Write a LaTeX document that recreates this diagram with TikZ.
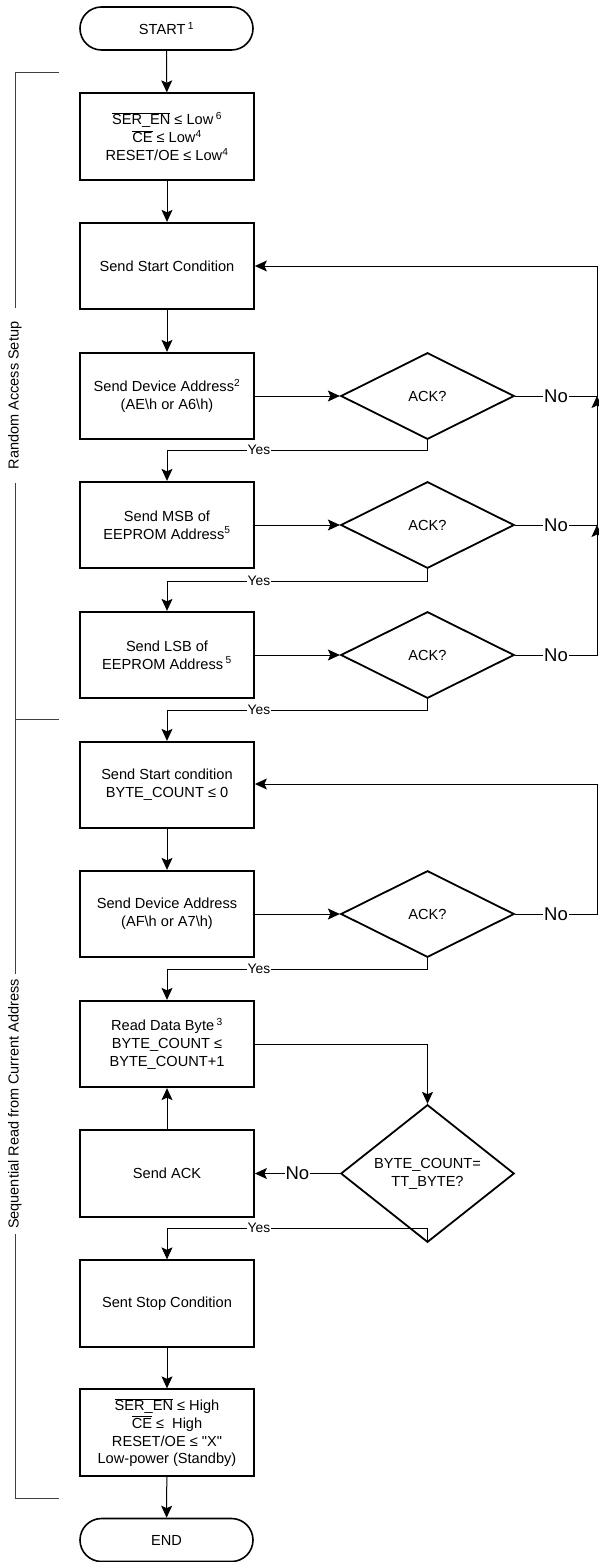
\documentclass[tikz,border=0pt]{standalone}
\usepackage{fontspec}
\setmainfont{Liberation Sans}[Ligatures=TeXOff]
\usetikzlibrary{shapes.geometric,arrows.meta}
\newcommand\ovl[1]{$\overline{\mbox{#1}}$}
\begin{document}
\begin{tikzpicture}[x=1pt,y=-1pt,
  font=\fontsize{14.6}{17.8}\selectfont,
  box/.style={draw,line width=1.8pt,minimum width=174pt,minimum height=86.5pt,align=center,inner sep=2pt},
  term/.style={draw,line width=1.6pt,rounded corners=21.5pt,minimum width=173pt,minimum height=43pt},
  dec/.style={draw,diamond,line width=1.8pt,minimum width=173.4pt,minimum height=86.5pt,inner sep=0pt,align=center},
  conn/.style={line width=1pt,-{Stealth[length=12pt,width=11pt,inset=2.5pt]}},
  plain/.style={line width=1pt},
  yes/.style={fill=white,inner sep=1pt,font=\fontsize{13.8}{15}\selectfont},
  no/.style={fill=white,inner sep=1pt,font=\fontsize{18.5}{20}\selectfont},
  brk/.style={line width=0.9pt,black!75},
  side/.style={fill=white,rotate=90,inner ysep=1pt,font=\fontsize{14.5}{17}\selectfont}
]
\useasboundingbox (0,0) rectangle (598,1562);

% nodes
\node[term] (start) at (166.5,28.5) {START\,\textsuperscript{1}};
\node[box] (b1) at (167,136.5) {\ovl{SER\_EN} ≤ Low\,\textsuperscript{6}\\\ovl{CE} ≤ Low\textsuperscript{4}\\RESET/OE ≤ Low\textsuperscript{4}};
\node[box] (b2) at (167,266) {Send Start Condition};
\node[box] (b3) at (167,396) {Send Device Address\textsuperscript{2}\\(AE\textbackslash h or A6\textbackslash h)};
\node[dec] (d1) at (427.5,396) {ACK?};
\node[box] (b4) at (167,525) {Send MSB of\\EEPROM Address\textsuperscript{5}};
\node[dec] (d2) at (427.5,525) {ACK?};
\node[box] (b5) at (167,655) {Send LSB of\\EEPROM Address\,\textsuperscript{5}};
\node[dec] (d3) at (427.5,655) {ACK?};
\node[box] (b6) at (167,785) {Send Start condition\\BYTE\_COUNT ≤ 0};
\node[box] (b7) at (167,914) {Send Device Address\\(AF\textbackslash h or A7\textbackslash h)};
\node[dec] (d4) at (427.5,914) {ACK?};
\node[box] (b8) at (167,1044) {Read Data Byte\,\textsuperscript{3}\\BYTE\_COUNT ≤\\BYTE\_COUNT+1};
\node[box] (b9) at (167,1173.5) {Send ACK};
\node[dec] (d5) at (427.5,1173.5) {BYTE\_COUNT=\\TT\_BYTE?};
\node[box] (b10) at (167,1303.5) {Sent Stop Condition};
\node[box] (b11) at (167,1432.5) {\ovl{SER\_EN} ≤ High\\\ovl{CE} ≤\ \ High\\RESET/OE ≤ "X"\\Low-power (Standby)};
\node[term] (end) at (166.5,1540) {END};

% main flow
\draw[conn] (start) -- (b1);
\draw[conn] (b1) -- (b2);
\draw[conn] (b2) -- (b3);
\draw[conn] (b3) -- (d1);
\draw[conn] (b4) -- (d2);
\draw[conn] (b5) -- (d3);
\draw[conn] (b6) -- (b7);
\draw[conn] (b7) -- (d4);
\draw[conn] (b8.east) -| (d5.north);
\draw[conn] (d5) -- node[no] {No} (b9);
\draw[conn] (b9) -- (b8);
\draw[conn] (b10) -- (b11);
\draw[conn] (b11) -- (end);

% yes branches
\draw[conn] (d1.south) -- (427.5,450) -| (b4.north);
\node[yes] at (259,450) {Yes};
\draw[conn] (d2.south) -- (427.5,581) -| (b5.north);
\node[yes] at (259,581) {Yes};
\draw[conn] (d3.south) -- (427.5,710) -| (b6.north);
\node[yes] at (259,710) {Yes};
\draw[conn] (d4.south) -- (427.5,969) -| (b8.north);
\node[yes] at (259,969) {Yes};
\draw[conn] (d5.south) -- (427.5,1228) -| (b10.north);
\node[yes] at (259,1228) {Yes};

% no feedback loops
\coordinate (rt) at (597,266);
\coordinate (r1) at (597,396);
\coordinate (r2) at (597,525);
\coordinate (r3) at (597,655);
\coordinate (st) at (597,784);
\coordinate (r4) at (597,914);
\draw[conn] (d3.east) -- node[no] {No} (r3) -- (r2);
\draw[conn] (d2.east) -- node[no] {No} (r2) -- (r1);
\draw[conn] (d1.east) -- node[no] {No} (r1) -- (rt) -- (b2.east |- rt);
\draw[conn] (d4.east) -- node[no] {No} (r4) -- (st) -- (b6.east |- st);

% side brackets
\draw[brk] (59,72) -- (15,72) -- (15,1498) -- (59,1498);
\draw[brk] (15,719) -- (59,719);
\node[side,inner xsep=14pt] at (15,395.5) {Random Access Setup};
\node[side,inner xsep=5pt] at (15,1104) {Sequential Read from Current Address};
\end{tikzpicture}
\end{document}
